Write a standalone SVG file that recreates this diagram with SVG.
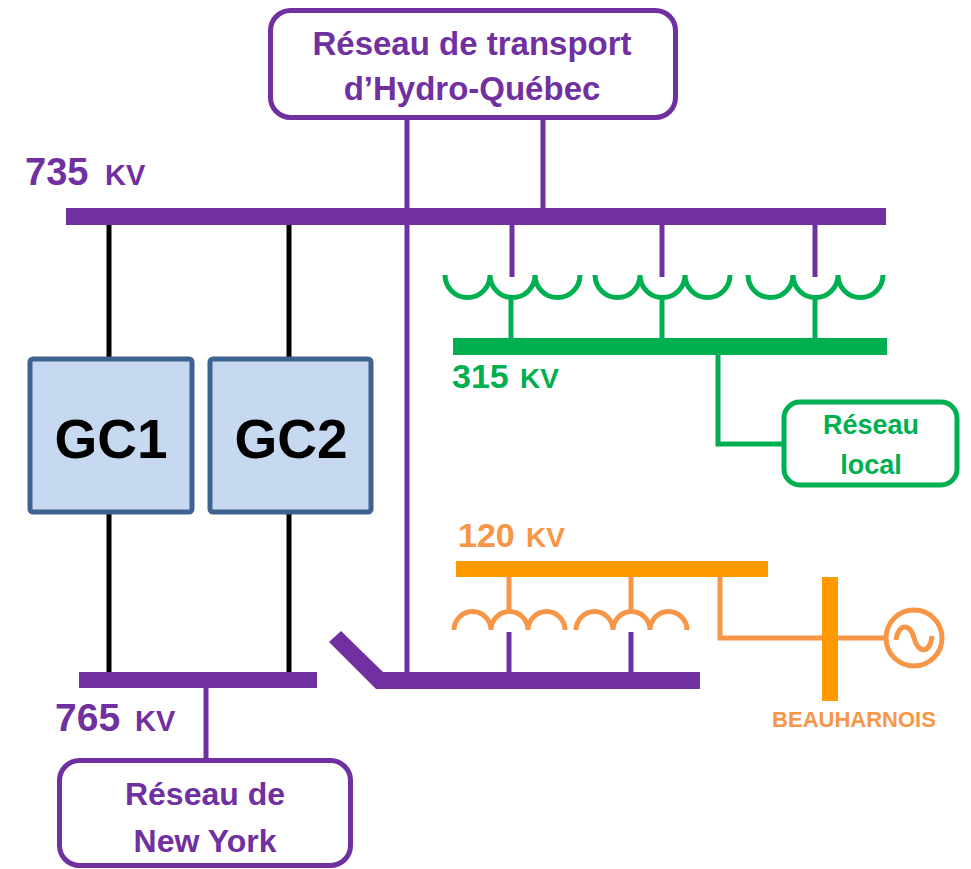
<svg xmlns="http://www.w3.org/2000/svg" width="971" height="869" viewBox="0 0 971 869">
<style>
text{font-family:"Liberation Sans",Arial,sans-serif;font-weight:bold}
.p{fill:#7030A0}
.g{fill:#00B050}
.o{fill:#F79646}
.ob{fill:#FF9900}
.box{fill:#fff;stroke-width:5}
.gc{fill:#C6D9F1;stroke:#3F6390;stroke-width:5}
.lp{stroke:#7030A0;stroke-width:5;fill:none}
.lg{stroke:#00B050;stroke-width:5;fill:none}
.lo{stroke:#F79646;stroke-width:5;fill:none}
.lk{stroke:#000;stroke-width:5;fill:none}
</style>
<g id="connectors">
<line class="lp" x1="407" y1="120" x2="407" y2="674"/>
<line class="lp" x1="543" y1="120" x2="543" y2="210"/>
<line class="lp" x1="512" y1="222" x2="512" y2="277"/>
<line class="lp" x1="662" y1="222" x2="662" y2="277"/>
<line class="lp" x1="815" y1="222" x2="815" y2="277"/>
<line class="lk" x1="109" y1="223" x2="109" y2="358"/>
<line class="lk" x1="109" y1="513" x2="109" y2="674"/>
<line class="lk" x1="289" y1="223" x2="289" y2="358"/>
<line class="lk" x1="289" y1="513" x2="289" y2="674"/>
<line class="lp" x1="206" y1="686" x2="206" y2="760"/>
<line class="lg" x1="511" y1="296" x2="511" y2="340"/>
<line class="lg" x1="662" y1="296" x2="662" y2="340"/>
<line class="lg" x1="815" y1="296" x2="815" y2="340"/>
<polyline class="lg" points="718,353 718,444 784,444"/>
<line class="lo" x1="509" y1="575" x2="509" y2="612"/>
<line class="lo" x1="631" y1="575" x2="631" y2="612"/>
<line class="lp" x1="509" y1="632" x2="509" y2="674"/>
<line class="lp" x1="631" y1="632" x2="631" y2="674"/>
<polyline class="lo" points="720,564 720,638 887,638"/>
</g>
<g id="bus-735">
<rect class="p" x="66" y="208" width="820" height="17"/>
<text class="p" x="25" y="185" font-size="38">735<tspan x="105" font-size="29">KV</tspan></text>
</g>
<g id="bus-765">
<rect class="p" x="79" y="672" width="238" height="16"/>
<text class="p" x="55" y="731" font-size="39">765<tspan x="135" font-size="29">KV</tspan></text>
</g>
<g id="bus-315">
<rect class="g" x="453" y="338" width="434" height="17"/>
<text class="g" x="452" y="388" font-size="34">315<tspan x="520" font-size="28">KV</tspan></text>
</g>
<g id="bus-120">
<rect class="ob" x="456" y="561" width="312" height="16"/>
<text class="o" x="458" y="547" font-size="34">120<tspan x="526" font-size="28">KV</tspan></text>
</g>
<g id="bus-lower">
<rect class="p" x="377" y="672" width="323" height="17"/>
<polygon class="p" points="329,642 341,631 383,672 383,689 376,689"/>
</g>
<g id="transformers-315">
<path class="lg" d="M445 275A22.5 22.5 0 0 0 490 275A22.5 22.5 0 0 0 535 275A22.5 22.5 0 0 0 580 275"/>
<path class="lg" d="M595 275A22.5 22.5 0 0 0 640 275A22.5 22.5 0 0 0 685 275A22.5 22.5 0 0 0 730 275"/>
<path class="lg" d="M748 275A22.5 22.5 0 0 0 793 275A22.5 22.5 0 0 0 838 275A22.5 22.5 0 0 0 883 275"/>
</g>
<g id="transformers-120">
<path class="lo" d="M454 630A18.5 18.5 0 0 1 491 630A18.5 18.5 0 0 1 528 630A18.5 18.5 0 0 1 565 630"/>
<path class="lo" d="M576 630A18.5 18.5 0 0 1 613 630A18.5 18.5 0 0 1 650 630A18.5 18.5 0 0 1 687 630"/>
</g>
<g id="beauharnois">
<rect class="ob" x="822" y="577" width="16" height="124"/>
<circle cx="914" cy="638" r="28" fill="#fff" stroke="#F79646" stroke-width="5"/>
<path class="lo" stroke-width="3.5" d="M896 640C898 624 910 622 914 638S930 654 932 636"/>
<text class="o" x="854" y="727" font-size="22" text-anchor="middle">BEAUHARNOIS</text>
</g>
<g id="hydro-quebec">
<rect class="box" stroke="#7030A0" x="270.5" y="10.5" width="405" height="107" rx="20"/>
<text class="p" x="472" y="55" font-size="33" text-anchor="middle">Réseau de transport</text>
<text class="p" x="472" y="100" font-size="33" text-anchor="middle">d’Hydro-Québec</text>
</g>
<g id="gc1">
<rect class="gc" x="30" y="359" width="162" height="153" rx="3"/>
<text x="111" y="458" font-size="55" text-anchor="middle" fill="#000">GC1</text>
</g>
<g id="gc2">
<rect class="gc" x="210" y="359" width="161" height="153" rx="3"/>
<text x="291" y="458" font-size="55" text-anchor="middle" fill="#000">GC2</text>
</g>
<g id="reseau-local">
<rect class="box" stroke="#00B050" x="784" y="402" width="173" height="83" rx="16"/>
<text class="g" x="871" y="434" font-size="27" text-anchor="middle">Réseau</text>
<text class="g" x="871" y="474" font-size="27" text-anchor="middle">local</text>
</g>
<g id="new-york">
<rect class="box" stroke="#7030A0" x="59.5" y="760.5" width="291" height="105" rx="20"/>
<text class="p" x="205" y="805" font-size="32" text-anchor="middle">Réseau de</text>
<text class="p" x="205" y="852" font-size="32" text-anchor="middle">New York</text>
</g>
</svg>
